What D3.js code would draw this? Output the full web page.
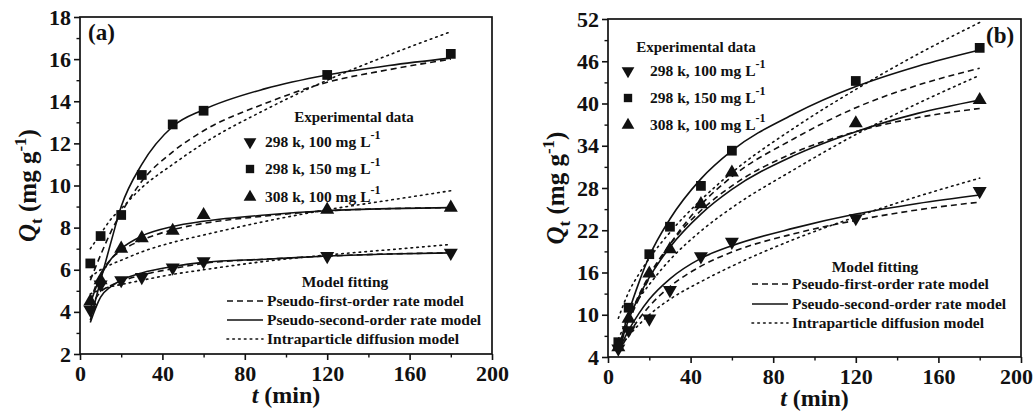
<!DOCTYPE html>
<html><head><meta charset="utf-8">
<script src="https://cdn.jsdelivr.net/npm/d3@7"></script>
<style>body{margin:0;background:#fff}svg{display:block}text{font-family:"Liberation Serif","Times New Roman",serif;font-weight:bold;fill:#111}</style>
</head><body><svg id="c" width="1035" height="413"></svg>
<script>
// ---------- data ----------
const tExp = [5, 10, 20, 30, 45, 60, 120, 180];
const tFit = [5, 10, 15, 20, 30, 45, 60, 90, 120, 150, 180];
const seriesNames = ["298 k, 100 mg L", "298 k, 150 mg L", "308 k, 100 mg L"];
const modelNames = ["Pseudo-first-order rate model", "Pseudo-second-order rate model", "Intraparticle diffusion model"];

// panel (a)
const a_exp298_100 = [4.1, 5.3, 5.5, 5.65, 6.1, 6.4, 6.65, 6.8];
const a_exp298_150 = [6.3, 7.6, 8.6, 10.5, 12.9, 13.55, 15.25, 16.25];
const a_exp308_100 = [4.5, 5.5, 7.0, 7.5, 7.85, 8.6, 8.85, 8.95];
const a_pfo298_100 = [4.2, 4.95, 5.25, 5.45, 5.75, 6.05, 6.3, 6.5, 6.65, 6.75, 6.8];
const a_pso298_100 = [3.5, 4.7, 5.2, 5.5, 5.85, 6.15, 6.35, 6.5, 6.65, 6.75, 6.8];
const a_ipd298_100 = [4.85, 5.05, 5.2, 5.3, 5.5, 5.78, 6.0, 6.4, 6.7, 6.95, 7.2];
const a_pfo298_150 = [5.5, 6.7, 7.8, 8.7, 10.2, 11.6, 12.6, 13.9, 14.9, 15.5, 16.0];
const a_pso298_150 = [3.6, 5.5, 7.3, 9.0, 11.0, 12.8, 13.6, 14.6, 15.25, 15.7, 16.05];
const a_ipd298_150 = [7.0, 7.7, 8.4, 8.9, 9.9, 11.0, 12.0, 13.6, 15.0, 16.2, 17.3];
const a_pfo308_100 = [4.5, 5.8, 6.5, 6.9, 7.4, 7.9, 8.2, 8.55, 8.8, 8.9, 8.95];
const a_pso308_100 = [4.4, 5.7, 6.5, 7.0, 7.6, 8.05, 8.3, 8.6, 8.8, 8.9, 8.95];
const a_ipd308_100 = [5.65, 6.0, 6.25, 6.45, 6.85, 7.3, 7.65, 8.3, 8.85, 9.3, 9.75];

// panel (b)
const b_exp298_100 = [5.2, 7.8, 9.45, 13.5, 18.3, 20.35, 23.7, 27.55];
const b_exp298_150 = [6.1, 11.0, 18.6, 22.5, 28.3, 33.3, 43.2, 47.9];
const b_exp308_100 = [5.4, 9.45, 15.85, 19.3, 25.7, 30.2, 37.2, 40.5];
const b_pfo298_100 = [4.6, 7.2, 9.4, 11.2, 14.0, 16.9, 18.9, 21.5, 23.4, 24.9, 26.0];
const b_pso298_100 = [4.8, 7.8, 10.2, 12.2, 15.1, 18.0, 19.8, 22.3, 24.3, 25.8, 27.0];
const b_ipd298_100 = [5.0, 7.0, 8.6, 10.0, 12.2, 14.7, 16.9, 20.7, 23.9, 26.8, 29.4];
const b_pfo298_150 = [5.0, 9.0, 12.3, 15.2, 20.0, 25.6, 29.6, 35.0, 39.4, 42.6, 45.0];
const b_pso298_150 = [5.0, 10.3, 14.6, 18.3, 23.6, 29.3, 33.3, 38.5, 42.4, 45.3, 47.6];
const b_ipd298_150 = [9.5, 13.2, 15.8, 18.0, 21.7, 26.3, 30.2, 36.5, 42.0, 47.0, 51.5];
const b_pfo308_100 = [5.0, 9.4, 12.8, 15.6, 20.0, 24.8, 28.3, 33.0, 36.0, 38.0, 39.3];
const b_pso308_100 = [4.8, 9.3, 12.6, 15.3, 19.6, 24.3, 27.8, 32.6, 36.0, 38.6, 40.5];
const b_ipd308_100 = [6.5, 9.8, 12.3, 14.3, 17.8, 21.9, 25.2, 30.6, 35.6, 40.0, 44.0];

const xTicks = [0, 40, 80, 120, 160, 200];
const aYTicks = [2, 4, 6, 8, 10, 12, 14, 16, 18];
const bYTicks = [4, 10, 16, 22, 28, 34, 40, 46, 52];

// ---------- drawing ----------
const svg = d3.select("#c");
const styles = [{dash: "6,4"}, {dash: null}, {dash: "1.6,4.2"}];
const markerTypes = [d3.symbolTriangle, d3.symbolSquare, d3.symbolTriangle];

function panel(cfg) {
  const x = d3.scaleLinear().domain([0, 200]).range([cfg.left, cfg.right]);
  const y = d3.scaleLinear().domain(cfg.yDomain).range([cfg.bottom, cfg.top]);
  const g = svg.append("g");

  // minor ticks
  const xMinor = d3.range(20, 200, 40);
  g.append("g").attr("transform", `translate(0,${cfg.bottom})`)
    .call(d3.axisBottom(x).tickValues(xMinor).tickSize(3.5).tickFormat(""))
    .call(s => { s.select(".domain").remove(); s.selectAll("line").attr("stroke-width", 1.4).attr("stroke", "#111"); });
  const yMinor = d3.range(cfg.yDomain[0] + cfg.yStep / 2, cfg.yDomain[1], cfg.yStep);
  g.append("g").attr("transform", `translate(${cfg.left},0)`)
    .call(d3.axisLeft(y).tickValues(yMinor).tickSize(3.5).tickFormat(""))
    .call(s => { s.select(".domain").remove(); s.selectAll("line").attr("stroke-width", 1.4).attr("stroke", "#111"); });

  // major axes
  const xa = g.append("g").attr("transform", `translate(0,${cfg.bottom})`)
    .call(d3.axisBottom(x).tickValues(xTicks).tickSize(6).tickPadding(5).tickFormat(d3.format("d")));
  const ya = g.append("g").attr("transform", `translate(${cfg.left},0)`)
    .call(d3.axisLeft(y).tickValues(cfg.yTicks).tickSize(6).tickPadding(3).tickFormat(d3.format("d")));
  [xa, ya].forEach(a => {
    a.select(".domain").remove();
    a.selectAll("line").attr("stroke-width", 1.6).attr("stroke", "#111");
    a.selectAll("text").style("font-size", "22px").style("font-family", '"Liberation Serif",serif').style("font-weight", "bold").attr("fill", "#111");
  });
  if (cfg.lastShift) xa.selectAll(".tick").filter(d => d === 200).select("text").attr("dx", cfg.lastShift);
  // frame
  g.append("rect").attr("x", cfg.left).attr("y", cfg.top)
    .attr("width", cfg.right - cfg.left).attr("height", cfg.bottom - cfg.top)
    .attr("fill", "none").attr("stroke", "#111").attr("stroke-width", 1.7);

  // curves
  const line = d3.line().x((d, i) => x(tFit[i])).y(d => y(d)).curve(d3.curveMonotoneX);
  cfg.fits.forEach(f => {
    g.append("path").datum(f.v).attr("d", line).attr("fill", "none")
      .attr("stroke", "#111").attr("stroke-width", 1.6)
      .attr("stroke-linecap", f.m === 2 ? "round" : "butt")
      .attr("stroke-dasharray", styles[f.m].dash);
  });
  // markers
  cfg.exps.forEach((vals, s) => {
    const sym = d3.symbol().type(markerTypes[s]).size(s === 1 ? 95 : 85);
    g.selectAll(null).data(vals).join("path")
      .attr("d", sym)
      .attr("transform", (d, i) => `translate(${x(tExp[i])},${y(d)})${s === 0 ? " rotate(180)" : ""}`)
      .attr("fill", "#111");
  });

  // axis titles
  const xt = g.append("text").attr("x", (cfg.left + cfg.right) / 2).attr("y", cfg.bottom + 49)
    .attr("text-anchor", "middle").style("font-size", "24px");
  xt.append("tspan").style("font-style", "italic").text("t");
  xt.append("tspan").text(" (min)");
  const yt = g.append("text").attr("transform", `translate(${cfg.yTitleX},${(cfg.top + cfg.bottom) / 2}) rotate(-90)`)
    .attr("text-anchor", "middle").style("font-size", "25px");
  yt.append("tspan").style("font-style", "italic").text("Q");
  yt.append("tspan").attr("dy", 6).style("font-size", "17px").text("t");
  yt.append("tspan").attr("dy", -6).text(" (mg g");
  yt.append("tspan").attr("dy", -10).style("font-size", "17px").text("-1");
  yt.append("tspan").attr("dy", 10).text(")");

  // panel label
  g.append("text").attr("x", cfg.labX).attr("y", cfg.labY).style("font-size", "23px").text(cfg.label);

  // experimental legend
  const L = cfg.leg;
  g.append("text").attr("x", L.hx).attr("y", L.hy).attr("text-anchor", "middle").style("font-size", "15px").text("Experimental data");
  seriesNames.forEach((nm, s) => {
    const yy = L.ey[s];
    const sym = d3.symbol().type(markerTypes[s]).size(70);
    g.append("path").attr("d", sym).attr("transform", `translate(${L.mx},${yy - 5})${s === 0 ? " rotate(180)" : ""}`).attr("fill", "#111");
    const t = g.append("text").attr("x", L.tx).attr("y", yy).style("font-size", "15.5px");
    t.append("tspan").text(nm);
    t.append("tspan").attr("dy", -8).style("font-size", "12px").text("-1");
  });
  const M = cfg.mod;
  g.append("text").attr("x", M.hx).attr("y", M.hy).attr("text-anchor", "middle").style("font-size", "15.5px").text("Model fitting");
  modelNames.forEach((nm, m) => {
    const yy = M.ey[m];
    g.append("line").attr("x1", M.lx1).attr("x2", M.lx2).attr("y1", yy - 5).attr("y2", yy - 5)
      .attr("stroke", "#111").attr("stroke-width", 1.6).attr("stroke-dasharray", styles[m].dash)
      .attr("stroke-linecap", m === 2 ? "round" : "butt");
    g.append("text").attr("x", M.tx).attr("y", yy).style("font-size", "15.5px").text(nm);
  });
}

panel({
  left: 80, right: 492, top: 17, bottom: 354, yDomain: [2, 18], yStep: 2, yTicks: aYTicks,
  yTitleX: 36, label: "(a)", labX: 88, labY: 40,
  exps: [a_exp298_100, a_exp298_150, a_exp308_100],
  fits: [
    {m: 0, v: a_pfo298_100}, {m: 1, v: a_pso298_100}, {m: 2, v: a_ipd298_100},
    {m: 0, v: a_pfo298_150}, {m: 1, v: a_pso298_150}, {m: 2, v: a_ipd298_150},
    {m: 0, v: a_pfo308_100}, {m: 1, v: a_pso308_100}, {m: 2, v: a_ipd308_100}
  ],
  leg: {hx: 354, hy: 122, mx: 250, tx: 265, ey: [147, 174, 202]},
  mod: {hx: 345, hy: 287, lx1: 227, lx2: 263, tx: 267, ey: [306, 325, 344]}
});
panel({
  left: 608, right: 1021, top: 19, bottom: 357, yDomain: [4, 52], yStep: 6, yTicks: bYTicks,
  yTitleX: 564, label: "(b)", labX: 986, labY: 43, lastShift: -5,
  exps: [b_exp298_100, b_exp298_150, b_exp308_100],
  fits: [
    {m: 0, v: b_pfo298_100}, {m: 1, v: b_pso298_100}, {m: 2, v: b_ipd298_100},
    {m: 0, v: b_pfo298_150}, {m: 1, v: b_pso298_150}, {m: 2, v: b_ipd298_150},
    {m: 0, v: b_pfo308_100}, {m: 1, v: b_pso308_100}, {m: 2, v: b_ipd308_100}
  ],
  leg: {hx: 696, hy: 52, mx: 628, tx: 650, ey: [76, 103, 130]},
  mod: {hx: 875, hy: 272, lx1: 752, lx2: 788, tx: 792, ey: [289, 309, 328]}
});
</script></body></html>
